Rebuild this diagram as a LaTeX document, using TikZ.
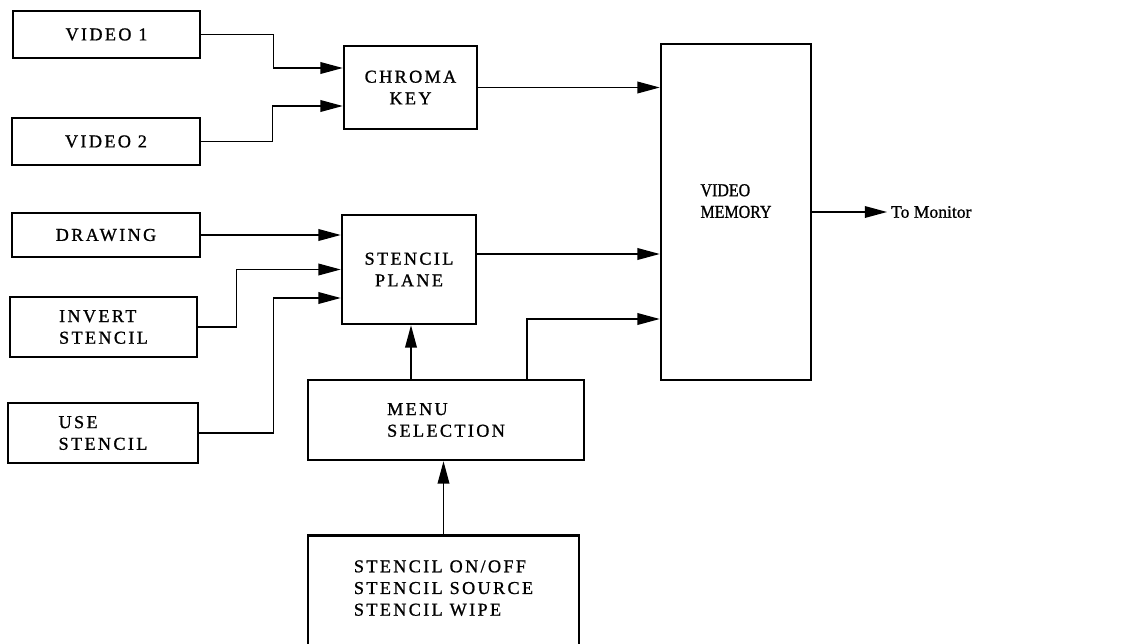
\documentclass[tikz,border=0pt]{standalone}
\usepackage{fontspec}
\setmainfont{Liberation Serif}[LetterSpace=13, FakeBold=1]
\newfontfamily\monitorfont{Liberation Serif}[FakeBold=1]
\newfontfamily\memoryfont{Liberation Serif}[FakeBold=1, FakeStretch=0.88]
\usetikzlibrary{arrows.meta,positioning,calc}

\begin{document}
\begin{tikzpicture}[
  x=0.03cm, y=-0.03cm,
  box/.style={draw, line width=2.2pt, inner sep=2pt, align=#1, font=\fontsize{15.5}{18.5}\selectfont},
  box/.default=left,
  arr/.style={-{Triangle[length=19pt, width=10pt]}, line width=1pt},
  >=Triangle
]

\useasboundingbox (0,0) rectangle (1121,643);
\clip (0,0) rectangle (1121,643);

\node[box, minimum width=5.61cm, minimum height=1.41cm] (vidone) at (106.5,34.5) {VIDEO 1};
\node[box, minimum width=5.64cm, minimum height=1.41cm] (vidtwo) at (106,141.5) {VIDEO 2};
\node[box=center, minimum width=3.99cm, minimum height=2.49cm] (chroma) at (410.5,87.5) {CHROMA\\KEY};
\node[box, minimum width=5.64cm, minimum height=1.32cm] (drawing) at (106,235) {DRAWING};
\node[box=center, minimum width=4.02cm, minimum height=3.27cm] (stencil) at (409,269.5) {STENCIL\\PLANE};
\node[box, minimum width=5.61cm, minimum height=1.8cm] (invert) at (103.5,327) {INVERT\\STENCIL};
\node[box, minimum width=5.7cm, minimum height=1.8cm] (usestencil) at (103,433) {USE\\STENCIL};
\node[box, minimum width=4.5cm, minimum height=10.08cm, text depth=0.66cm,
  font=\memoryfont\fontsize{15.5}{18.5}\selectfont] (vidmem) at (736,212) {VIDEO\\MEMORY};
\node[box, minimum width=8.28cm, minimum height=2.4cm] (menu) at (446,420) {MENU\\SELECTION};
\node[box, anchor=north, minimum width=8.13cm, inner ysep=0.75cm, text depth=1.5cm] (stencilopts) at (443.5,534)
  {STENCIL ON/OFF\\STENCIL SOURCE\\STENCIL WIPE};
\node[anchor=west, font=\monitorfont\fontsize{15}{18}\selectfont] (monitor) at (887,212) {To Monitor};

% inputs to the chroma key
\draw[arr] (vidone.east) -- ++(72,0) |- ($(chroma.west)+(0,-19.5)$);
\draw[arr] (vidtwo.east) -- ++(71,0) |- ($(chroma.west)+(0,18.5)$);

% inputs to the stencil plane
\draw[arr] (drawing) -- (drawing -| stencil.west);
\draw[arr] (invert.east) -- ++(38,0) |- (stencil.west);
\draw[arr] (usestencil.east) -- ++(74,0) |- ($(stencil.west)+(0,28.5)$);

% into video memory
\draw[arr] (chroma) -- (chroma -| vidmem.west);
\draw[arr] ($(stencil.east)+(0,-15.5)$) -- ($(vidmem.west)+(0,42)$);
\draw[arr] ($(menu.north)+(81,0)$) |- ($(vidmem.west)+(0,107)$);
\draw[arr] (vidmem.east) -- (monitor.west);

% menu
\draw[arr] ($(menu.north)+(-35,0)$) -- ($(stencil.south)+(2,0)$);
\draw[arr] (stencilopts.north) -- (stencilopts.north |- menu.south);

\end{tikzpicture}
\end{document}
